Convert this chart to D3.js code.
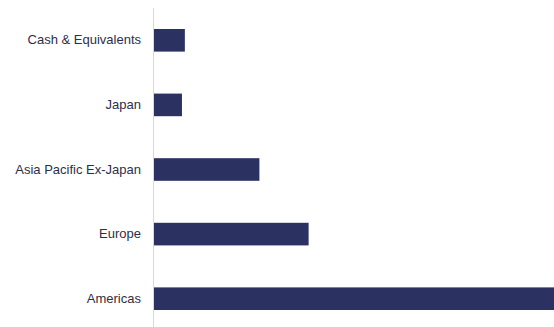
<!DOCTYPE html>
<html>
<head>
<meta charset="utf-8">
<script src="https://cdn.jsdelivr.net/npm/d3@7"></script>
<style>
  body { margin: 0; background: #fff; }
  svg { display: block; }
</style>
</head>
<body>
<script>
// Regions, top to bottom, and their weights (%)
var regions = ["Cash & Equivalents", "Japan", "Asia Pacific Ex-Japan", "Europe", "Americas"];
var weights = [4.4, 4.0, 14.7, 21.5, 56.0];

var w = 554;
var h = 327;

var svg = d3.select("body")
            .append("svg")
            .attr("width", w)
            .attr("height", h);

var margin = {left: 153, top: 8};

// scales
var yScale = d3.scaleBand()
               .domain(regions)
               .range([margin.top, 331])
               .paddingInner(0.65)
               .paddingOuter(0.325);

var xScale = d3.scaleLinear()
               .domain([0, 55.4])
               .range([margin.left, w]);

var data = regions.map(function(r, i){
  return {region: r, value: weights[i]};
});

// bars
svg.selectAll("rect")
   .data(data)
   .enter()
   .append("rect")
   .attr("x", xScale(0))
   .attr("y", d => yScale(d.region))
   .attr("width", d => xScale(d.value) - xScale(0))
   .attr("height", yScale.bandwidth())
   .attr("fill", "#2b3160");

// y axis
var yAxis = svg.append("g")
               .attr("transform", `translate(${margin.left}, 0)`)
               .call(d3.axisLeft(yScale).tickSize(0).tickPadding(12));

yAxis.select(".domain")
     .attr("stroke", "#d9d9d9")
     .attr("d", `M0.5,${margin.top}V${h}`);

yAxis.selectAll("text")
     .attr("fill", "#2e2e4a")
     .style("font-family", "'Liberation Sans', Arial, sans-serif")
     .style("font-size", "13px");
</script>
</body>
</html>
